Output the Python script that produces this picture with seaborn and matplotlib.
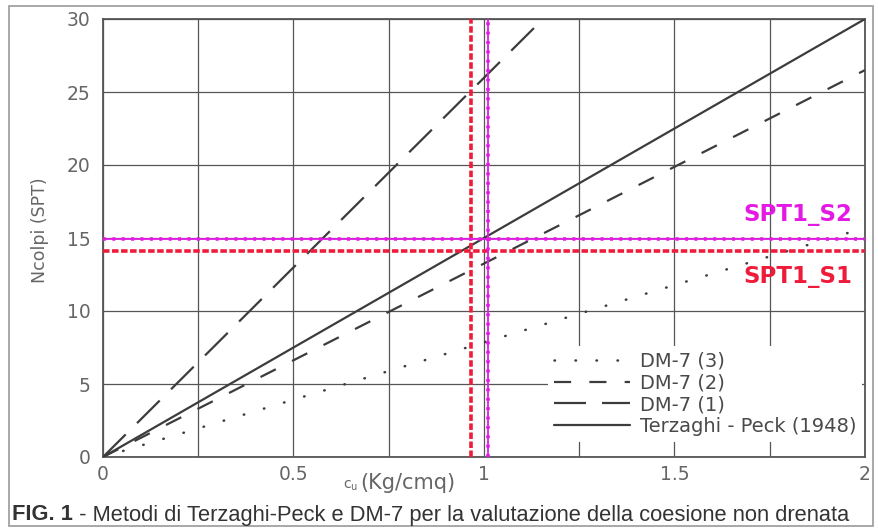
import matplotlib
matplotlib.use("Agg")
import matplotlib.pyplot as plt
from matplotlib.patches import Rectangle
import seaborn as sns
import pandas as pd
import numpy as np

# ---- data ----
methods = ["DM-7 (3)", "DM-7 (2)", "DM-7 (1)", "Terzaghi - Peck (1948)"]
x_dm7_3 = [0.0, 2.0]
y_dm7_3 = [0.0, 15.7]
x_dm7_2 = [0.0, 2.0]
y_dm7_2 = [0.0, 26.5]
x_dm7_1 = [0.0, 1.155]
y_dm7_1 = [0.0, 30.0]
x_terz = [0.0, 2.0]
y_terz = [0.0, 30.0]

spt1_s1 = [0.965, 14.1]   # (cu, N) red
spt1_s2 = [1.01, 14.95]   # (cu, N) magenta

x_ticks = [0, 0.5, 1, 1.5, 2]
x_tick_labels = ["0", "0.5", "1", "1.5", "2"]
y_ticks = [0, 5, 10, 15, 20, 25, 30]

rows = []
for name, xs, ys in zip(methods,
                        [x_dm7_3, x_dm7_2, x_dm7_1, x_terz],
                        [y_dm7_3, y_dm7_2, y_dm7_1, y_terz]):
    for xv, yv in zip(xs, ys):
        rows.append({"method": name, "cu": xv, "N": yv})
df = pd.DataFrame(rows)

sns.set_style("white")
plt.rcParams["font.family"] = ["DejaVu Sans"]

W, H = 879, 531
fig = plt.figure(figsize=(W / 100, H / 100), dpi=100)
L, R, T, B = 103, 865, 19, 457
ax = fig.add_axes([L / W, 1 - B / H, (R - L) / W, (B - T) / H])

line_col = "#3c3c3c"
dashes = {
    "DM-7 (3)": (0.2, 8.2),
    "DM-7 (2)": (7.7, 8.2),
    "DM-7 (1)": (14.4, 7.2),
    "Terzaghi - Peck (1948)": "",
}
sns.lineplot(data=df, x="cu", y="N", style="method", style_order=methods,
             dashes=dashes, color=line_col, linewidth=1.6, ax=ax, zorder=3)

# make the dotted series round dots
for ln in ax.get_lines():
    if ln.get_label() == "DM-7 (3)" or (len(ln.get_ydata()) and max(ln.get_ydata()) == max(y_dm7_3) and max(ln.get_xdata()) == 2.0):
        pass
dot_line = ax.get_lines()[0]
dot_line.set_linewidth(1.8)
dot_line.set_dash_capstyle("round")

ax.set_xlim(0, 2)
ax.set_ylim(0, 30)
ax.set_xticks(x_ticks)
ax.set_xticklabels(x_tick_labels)
ax.set_xticks(np.arange(0.25, 2, 0.5), minor=True)
ax.set_yticks(y_ticks)
ax.grid(True, which="both", color="#555555", linewidth=0.9)
ax.set_axisbelow(True)
ax.tick_params(which="both", length=0, labelsize=13.5, colors="#666666")
ax.tick_params(axis="y", pad=9)
ax.tick_params(axis="x", pad=6)
for s in ax.spines.values():
    s.set_color("#555555")
    s.set_linewidth(1.3)
ax.set_xlabel("")
ax.set_ylabel("")

# reference lines
red = "#ee1c3a"
mag = "#e41ae4"
ax.axvline(spt1_s1[0], color=red, lw=2.6, ls=(0, (1.8, 0.7)), zorder=5)
ax.axhline(spt1_s1[1], color=red, lw=2.6, ls=(0, (1.8, 0.7)), zorder=5)
ax.axvline(spt1_s2[0], color=mag, lw=1.3, zorder=6)
ax.axhline(spt1_s2[1], color=mag, lw=1.3, zorder=6)
ax.axvline(spt1_s2[0], color=mag, lw=2.6, ls=(0, (0.8, 1.8)), zorder=6)
ax.axhline(spt1_s2[1], color=mag, lw=2.6, ls=(0, (0.8, 1.8)), zorder=6)

# legend
handles, labels = ax.get_legend_handles_labels()
leg = ax.legend(handles, labels, loc="lower right",
                bbox_to_anchor=((862 - L) / (R - L), (B - 442) / (B - T)),
                borderaxespad=0, frameon=True, fancybox=False,
                facecolor="white", edgecolor="none", framealpha=1,
                fontsize=14, handlelength=3.9, handletextpad=0.5,
                labelspacing=0.15, borderpad=0.3)
for t in leg.get_texts():
    t.set_color("#4a4a4a")
for lh in leg.get_lines():
    if lh.get_label() == "DM-7 (3)":
        lh.set_linewidth(1.8)
        lh.set_dash_capstyle("round")
leg.set_zorder(4)

# labels
fig.text(40 / W, 1 - 230 / H, "Ncolpi (SPT)", rotation=90, ha="center",
         va="center", fontsize=12.5, color="#666666")
fig.text(343 / W, 1 - 486 / H, r"$\mathregular{c_u}$", ha="left", va="center",
         fontsize=10, color="#666666")
fig.text(360 / W, 1 - 483 / H, "(Kg/cmq)", ha="left", va="center",
         fontsize=15, color="#666666")

fig.text(743 / W, 1 - 215 / H, "SPT1_S2", ha="left", va="center",
         fontsize=16.5, fontweight="bold", color=mag)
fig.text(743 / W, 1 - 277 / H, "SPT1_S1", ha="left", va="center",
         fontsize=16.5, fontweight="bold", color=red)

# caption, fitted to width
renderer = fig.canvas.get_renderer()
cap_b = "FIG. 1"
cap_r = " - Metodi di Terzaghi-Peck e DM-7 per la valutazione della coesione non drenata"
x0, x1, yc = 12, 857, 515
fs = 14
tb = fig.text(x0 / W, 1 - yc / H, cap_b, ha="left", va="center", fontsize=fs,
              fontweight="bold", color="#333333", family="Liberation Sans")
tr = fig.text(0, 1 - yc / H, cap_r, ha="left", va="center", fontsize=fs,
              color="#333333", family="Liberation Sans")
wb = tb.get_window_extent(renderer).width
wr = tr.get_window_extent(renderer).width
scale = (x1 - x0) / (wb + wr)
fs2 = fs * scale
tb.set_fontsize(fs2)
tr.set_fontsize(fs2)
wb = tb.get_window_extent(renderer).width
tr.set_x((x0 + wb) / W)

# outer frame
fig.patches.append(Rectangle((9 / W, 1 - 526 / H), (873 - 9) / W, (526 - 6) / H,
                             transform=fig.transFigure, fill=False,
                             edgecolor="#9a9a9a", linewidth=1.2))

fig.savefig("out.png", dpi=100)
